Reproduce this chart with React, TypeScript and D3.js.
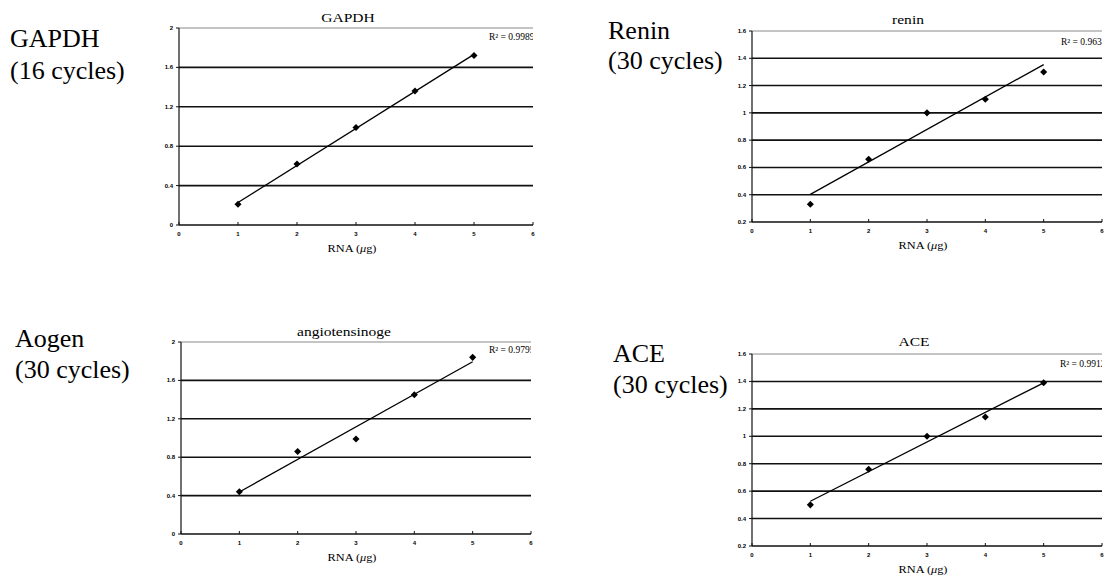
import React from "react";
import * as d3 from "d3";

// RNA amounts (µg) on the x axis
const rnaAmounts = [1, 2, 3, 4, 5];
const xTicks = [0, 1, 2, 3, 4, 5, 6];

// band intensity
const gapdhValues = [0.21, 0.62, 0.99, 1.36, 1.72];
const reninValues = [0.33, 0.66, 1.0, 1.1, 1.3];
const aogenValues = [0.44, 0.86, 0.99, 1.45, 1.84];
const aceValues = [0.5, 0.76, 1.0, 1.14, 1.39];

const ticksTo2 = [0, 0.4, 0.8, 1.2, 1.6, 2];
const ticksTo16 = [0.2, 0.4, 0.6, 0.8, 1, 1.2, 1.4, 1.6];

const titles = ["GAPDH", "renin", "angiotensinoge", "ACE"];
const rSquared = ["0.9989", "0.9634", "0.9795", "0.9912"];
const sideLabels = [
    ["GAPDH", "(16 cycles)"],
    ["Renin", "(30 cycles)"],
    ["Aogen", "(30 cycles)"],
    ["ACE", "(30 cycles)"],
];

const serif = "'Liberation Serif', 'Times New Roman', serif";
const sans = "'Liberation Sans', Arial, sans-serif";

// least squares fit, like the excel trendline
const fit = (xs: number[], ys: number[]) => {
    const mx = d3.mean(xs) as number;
    const my = d3.mean(ys) as number;
    const b = d3.sum(xs, (x, i) => (x - mx) * (ys[i] - my)) / d3.sum(xs, x => (x - mx) ** 2);
    return (x: number) => my + b * (x - mx);
};

type PanelProps = {
    id: string
    values: number[]
    yTicks: number[]
    left: number
    right: number
    top: number
    bottom: number
    title: string
    titleX: number
    titleY: number
    r2: string
    r2X: number
    r2Y: number
    side: string[]
    sideX: number
    sideY: number
    sideGap: number
}

const Panel = (p: PanelProps) => {
    const x = d3.scaleLinear().domain([0, 6]).range([p.left, p.right]);
    const y = d3.scaleLinear()
        .domain([p.yTicks[0], p.yTicks[p.yTicks.length - 1]])
        .range([p.bottom, p.top]);
    const line = fit(rnaAmounts, p.values);
    const diamond = d3.symbol().type(d3.symbolSquare).size(25)() as string;
    const yMax = p.yTicks[p.yTicks.length - 1];

    return (
        <g>
            <defs>
                <clipPath id={"clip-" + p.id}>
                    <rect x={p.left} y={p.top - 20} width={p.right - p.left} height={p.bottom - p.top + 20}/>
                </clipPath>
            </defs>

            {/* big label on the left */}
            {p.side.map((s, i) => (
                <text key={i} x={p.sideX} y={p.sideY + i * p.sideGap} fontFamily={serif} fontSize={26}>{s}</text>
            ))}

            {/* the chart text in the scan is a bit stretched sideways */}
            <text transform={`translate(${p.titleX},${p.titleY}) scale(1.15,1)`} textAnchor="middle"
                  fontFamily={serif} fontSize={13.5}>{p.title}</text>

            {/* gridlines */}
            {p.yTicks.slice(1).map(t => (
                <line key={t} x1={x(0)} x2={x(6)} y1={y(t)} y2={y(t)}
                      stroke={t === yMax ? "#8a8a8a" : "#111"} strokeWidth={t === yMax ? 1 : 1.6}/>
            ))}

            {/* axes */}
            <line x1={x(0)} x2={x(0)} y1={y(yMax)} y2={p.bottom} stroke="#111" strokeWidth={1.2}/>
            <line x1={x(0)} x2={x(6)} y1={p.bottom} y2={p.bottom} stroke="#111" strokeWidth={1.5}/>
            {p.yTicks.map(t => (
                <g key={t}>
                    <line x1={x(0) - 3} x2={x(0)} y1={y(t)} y2={y(t)} stroke="#111"/>
                    <text x={x(0) - 6} y={y(t) + 2} textAnchor="end" fontFamily={sans} fontWeight="bold" fontSize={6}>{t}</text>
                </g>
            ))}
            {xTicks.map(t => (
                <g key={t}>
                    <line x1={x(t)} x2={x(t)} y1={p.bottom - 3} y2={p.bottom} stroke="#111"/>
                    <text x={x(t)} y={p.bottom + 11} textAnchor="middle" fontFamily={sans} fontWeight="bold" fontSize={6}>{t}</text>
                </g>
            ))}

            <text transform={`translate(${(p.left + p.right) / 2 - 4},${p.bottom + 27}) scale(1.12,1)`}
                  textAnchor="middle" fontFamily={serif} fontSize={11}>
                RNA (<tspan fontStyle="italic">μ</tspan>g)
            </text>

            {/* trendline and points */}
            <line x1={x(1)} y1={y(line(1))} x2={x(5)} y2={y(line(5))} stroke="#000" strokeWidth={1.3}/>
            {p.values.map((v, i) => (
                <path key={i} d={diamond}
                      transform={`translate(${x(rnaAmounts[i])},${y(v)}) rotate(45)`} fill="#000"/>
            ))}

            <g clipPath={`url(#clip-${p.id})`}>
                <text x={p.r2X} y={p.r2Y} fontFamily={serif} fontSize={9.5}>
                    R² = {p.r2}
                </text>
            </g>
        </g>
    );
};

const App = () => {
    return (
        <svg width={1114} height={581} style={{position: "absolute", left: 0, top: 0, background: "#fff"}}>
            <rect width={1114} height={581} fill="#fff"/>
            <Panel id="gapdh" values={gapdhValues} yTicks={ticksTo2}
                   left={179} right={533} top={28} bottom={225}
                   title={titles[0]} titleX={348} titleY={22}
                   r2={rSquared[0]} r2X={489} r2Y={40}
                   side={sideLabels[0]} sideX={10} sideY={47} sideGap={32}/>
            <Panel id="renin" values={reninValues} yTicks={ticksTo16}
                   left={752} right={1102} top={31} bottom={222}
                   title={titles[1]} titleX={908} titleY={24}
                   r2={rSquared[1]} r2X={1061} r2Y={45}
                   side={sideLabels[1]} sideX={608} sideY={39} sideGap={30}/>
            <Panel id="aogen" values={aogenValues} yTicks={ticksTo2}
                   left={181} right={531} top={342} bottom={534}
                   title={titles[2]} titleX={344} titleY={336}
                   r2={rSquared[2]} r2X={489} r2Y={353}
                   side={sideLabels[2]} sideX={15} sideY={347} sideGap={31}/>
            <Panel id="ace" values={aceValues} yTicks={ticksTo16}
                   left={752} right={1102} top={354} bottom={546}
                   title={titles[3]} titleX={914} titleY={346}
                   r2={rSquared[3]} r2X={1060} r2Y={367}
                   side={sideLabels[3]} sideX={613} sideY={362} sideGap={31}/>
        </svg>
    );
};

export default App;
